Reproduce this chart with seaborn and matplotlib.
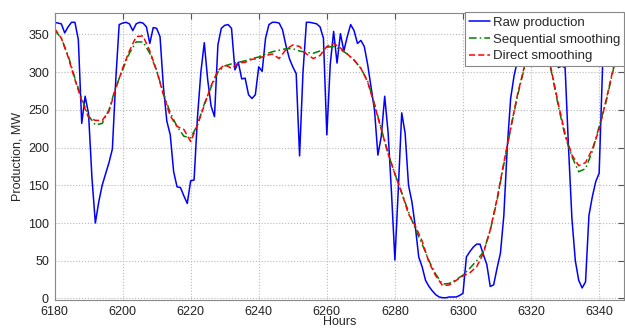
import matplotlib
matplotlib.use("Agg")
import matplotlib.pyplot as plt
import seaborn as sns
import pandas as pd

# Raw hourly production, hours 6180..6346
hours_raw = list(range(6180, 6347))
raw_production = [
    366, 365, 364, 352, 360, 366, 366, 343, 232, 268,
    245, 160, 100, 128, 150, 165, 180, 198, 290, 363,
    365, 366, 364, 355, 364, 366, 365, 360, 338, 359,
    358, 347, 280, 235, 217, 168, 148, 147, 136, 126,
    156, 157, 240, 300, 339, 290, 255, 241, 336, 358,
    362, 363, 358, 303, 313, 291, 292, 270, 265, 270,
    307, 301, 345, 363, 366, 366, 365, 356, 335, 318,
    307, 298, 189, 300, 366, 366, 365, 364, 360, 345,
    217, 310, 354, 312, 351, 328, 347, 363, 355, 338,
    342, 334, 310, 280, 250, 190, 215, 268, 220, 140,
    51, 145, 246, 219, 150, 128, 95, 55, 42, 24,
    16, 10, 5, 2, 1, 1, 2, 2, 2, 4,
    7, 55, 62, 68, 72, 72, 58, 45, 16, 18,
    40, 60, 110, 200, 265, 295, 315, 345, 360, 365,
    365, 365, 364, 360, 360, 355, 350, 340, 306, 308,
    306, 200, 106, 50, 24, 14, 22, 110, 135, 155,
    166, 307, 355, 362, 365, 365, 365,
]

# Smoothed curves, read every 2 hours
hours_smooth = list(range(6180, 6347, 2))
sequential_smoothing = [
    356, 345, 322, 292, 265, 242, 230, 232, 250, 280,
    303, 325, 340, 340, 325, 302, 272, 246, 228, 215,
    213, 230, 258, 280, 300, 308, 311, 313, 315, 318,
    320, 324, 327, 329, 331, 331, 328, 326, 325, 328,
    333, 334, 330, 324, 316, 305, 288, 258, 225, 192,
    165, 140, 115, 92, 72, 50, 32, 19, 20, 25,
    31, 40, 50, 62, 90, 130, 178, 225, 268, 305,
    340, 355, 340, 300, 255, 215, 188, 168, 172, 195,
    228, 260, 300, 340,
]
direct_smoothing = [
    358, 345, 320, 290, 262, 240, 236, 236, 248, 278,
    305, 328, 347, 348, 328, 302, 270, 242, 228, 224,
    208, 230, 256, 282, 302, 310, 305, 312, 313, 317,
    318, 322, 324, 318, 330, 336, 334, 324, 318, 322,
    334, 338, 332, 324, 316, 305, 287, 256, 224, 192,
    165, 140, 112, 96, 76, 48, 30, 17, 18, 24,
    30, 34, 42, 60, 91, 132, 180, 226, 270, 307,
    342, 356, 340, 302, 258, 218, 190, 176, 180, 198,
    224, 262, 302, 340,
]

x_ticks = list(range(6180, 6341, 20))
y_ticks = list(range(0, 351, 50))

raw_df = pd.DataFrame({"Hours": hours_raw, "Production": raw_production})
smooth_df = pd.DataFrame({"Hours": hours_smooth,
                          "Sequential": sequential_smoothing,
                          "Direct": direct_smoothing})

sns.set_style("white")
plt.rcParams["font.family"] = ["Liberation Sans", "DejaVu Sans"]

fig = plt.figure(figsize=(6.25, 3.3), dpi=100)
ax = fig.add_axes([54.5 / 625, 1 - 300 / 330, (624 - 54.5) / 625, (300 - 12.5) / 330])

# raw series plus the two smoothed ones
sns.lineplot(data=raw_df, x="Hours", y="Production", ax=ax, color="#0000ff",
             linewidth=1.1, label="Raw production")
sns.lineplot(data=smooth_df, x="Hours", y="Sequential", ax=ax, color="#008000",
             linewidth=1.1, linestyle=(0, (5, 2, 1, 2)), label="Sequential smoothing")
sns.lineplot(data=smooth_df, x="Hours", y="Direct", ax=ax, color="#ff0000",
             linewidth=1.1, linestyle=(0, (4, 2)), label="Direct smoothing")

ax.set_xlim(6180, 6347.3)
ax.set_ylim(-2, 379)
ax.set_xticks(x_ticks)
ax.set_yticks(y_ticks)
ax.grid(True, linestyle=":", color="#b8b8b8", linewidth=0.8)
ax.tick_params(direction="in", length=4, width=0.8, colors="#555555",
               labelcolor="#222222", labelsize=9, top=True, right=True, pad=4)
for s in ax.spines.values():
    s.set_color("#888888")
    s.set_linewidth(0.8)

ax.set_xlabel("Hours", fontsize=9, labelpad=-1)
ax.set_ylabel("Production, MW", fontsize=9, labelpad=3)

leg = ax.legend(loc="upper right", fontsize=9.5, frameon=True, fancybox=False,
                framealpha=1, edgecolor="#888888", borderaxespad=0,
                handlelength=1.6, handletextpad=0.2, labelspacing=0.35,
                borderpad=0.3)
leg.get_frame().set_linewidth(0.8)

fig.savefig("out.png", dpi=100)
